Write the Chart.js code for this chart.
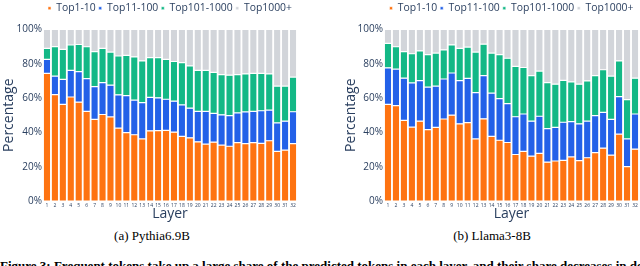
<!DOCTYPE html>
<html>
<head>
<meta charset="utf-8">
<script src="https://cdn.jsdelivr.net/npm/chart.js@4/dist/chart.umd.min.js"></script>
<style>
  body { margin: 0; width: 640px; height: 266px; overflow: hidden; background: #fff; position: relative; }
  .box { position: absolute; top: 0; width: 320px; height: 222px; }
  .cap { position: absolute; top: 228px; font: 13px "Liberation Serif", serif; color: #000; white-space: nowrap; transform: translateX(-50%); }
  .fig { position: absolute; left: 0; top: 258px; font: bold 13px "Liberation Serif", serif; color: #000; white-space: nowrap; }
</style>
</head>
<body>
<div class="box" style="left:0"><canvas id="pythia" width="320" height="222"></canvas></div>
<div class="box" style="left:320px"><canvas id="llama" width="320" height="222"></canvas></div>
<div class="cap" style="left:152px">(a) Pythia6.9B</div>
<div class="cap" style="left:492px">(b) Llama3-8B</div>
<div class="fig">Figure 3: Frequent tokens take up a large share of the predicted tokens in each layer, and their share decreases in deeper layers.</div>
<script>
const layers = [];
for (let i = 1; i <= 32; i++) layers.push(String(i));

const seriesNames = ['Top1-10', 'Top11-100', 'Top101-1000', 'Top1000+'];
const colors = ['#fe7311', '#2361e8', '#13b886', '#d2d5da'];

// Pythia6.9B, percent per layer
const pythiaTop10 = [74.4, 62, 56.3, 60.6, 57.6, 52.2, 47.6, 50.4, 49, 42.5, 39.9, 38.6, 36.2, 40.9, 41, 41.2,
    40.1, 37.7, 36.8, 34.5, 33.2, 34.3, 32.6, 31.9, 34, 33.4, 34, 33.6, 35.1, 28.9, 29.7, 33.4];
const pythiaTop100 = [8.1, 10.8, 14.6, 15.5, 17.8, 19.1, 19, 18.6, 18.5, 19.4, 21.5, 20.2, 21.1, 19.5, 19.1, 18.1,
    18.1, 18.3, 17.3, 17.7, 19, 16.8, 17.6, 17.9, 17.3, 18.5, 18.2, 19, 17.9, 16.6, 16.8, 18.6];
const pythiaTop1000 = [6.5, 17.2, 17.5, 14.8, 15.8, 18.6, 20.5, 20, 19.3, 22.6, 23.5, 25.2, 24.4, 23.2, 23.5, 23.2,
    23.1, 24.6, 24.6, 23.9, 23.9, 23.9, 23.5, 23.5, 22.4, 22.2, 22.2, 21.8, 21.1, 21.5, 20.5, 20.2];
const pythiaRest = [11, 10, 11.6, 9.1, 8.8, 10.1, 12.9, 11, 13.2, 15.5, 15.1, 16, 18.3, 16.4, 16.4, 17.5,
    18.7, 19.4, 21.3, 23.9, 23.9, 25, 26.3, 26.7, 26.3, 25.9, 25.6, 25.6, 25.9, 33, 33, 27.8];

// Llama3-8B, percent per layer
const llamaTop10 = [56.3, 55.6, 47, 43.1, 46.5, 41.6, 42.9, 47.8, 50, 45, 45.7, 36.2, 47.9, 37.7, 35.4, 34.1,
    27.1, 28.9, 26.1, 27.8, 22.6, 23.3, 23.7, 25.7, 23.5, 25.2, 28.2, 30.8, 26.7, 39, 20, 30.2];
const llamaTop100 = [21.3, 21.3, 24.6, 25.7, 23.6, 24.8, 24.1, 23.3, 24.6, 25.1, 25.8, 27, 25.2, 25.2, 24.3, 22.6,
    22, 21.8, 20.4, 21.6, 19.6, 19.6, 22.2, 20.6, 21.5, 21.4, 21.6, 20.9, 20.9, 21.8, 16.2, 20.5];
const llamaTop1000 = [14.2, 13, 15.5, 17, 17.4, 18.9, 19.2, 17, 16.4, 18.9, 18.2, 23.6, 18.3, 23.3, 25.6, 26.5,
    29.3, 27.1, 26.6, 26.3, 26.8, 25.2, 24.4, 23.1, 23.1, 23.4, 23.3, 24.8, 25.2, 20.9, 22.9, 20.9];
const llamaRest = [8.2, 10.1, 12.9, 14.2, 12.5, 14.7, 13.8, 11.9, 9, 11, 10.3, 13.2, 8.6, 13.8, 14.7, 16.8,
    21.6, 22.2, 26.9, 24.3, 31, 31.9, 29.7, 30.6, 31.9, 30, 26.9, 23.5, 27.2, 18.3, 40.9, 28.4];

const textColor = '#2a3f5f';
Chart.defaults.font.family = '"Open Sans", sans-serif';
Chart.defaults.color = textColor;

function makeChart(id, series, yWidth, titlePad, padRight) {
    const datasets = series.map((data, i) => ({
        label: seriesNames[i],
        data: data,
        backgroundColor: colors[i],
        borderColor: 'rgba(255,255,255,0.9)',
        borderWidth: 0.6,
        borderSkipped: false,
        categoryPercentage: 1,
        barPercentage: 0.92
    }));

    const legendGap = {
        id: 'legendGap',
        beforeInit(chart) {
            const fit = chart.legend.fit;
            chart.legend.fit = function () {
                fit.bind(chart.legend)();
                this.height += 6;
            };
        }
    };

    return new Chart(document.getElementById(id), {
        type: 'bar',
        data: { labels: layers, datasets: datasets },
        plugins: [legendGap],
        options: {
            responsive: false,
            animation: false,
            maintainAspectRatio: false,
            layout: { padding: { top: 0, right: padRight, bottom: 0, left: 0 } },
            plugins: {
                tooltip: { enabled: false },
                legend: {
                    position: 'top',
                    fullSize: false,
                    labels: {
                        boxWidth: 3,
                        boxHeight: 3,
                        padding: 3,
                        font: { size: 10.4 },
                        color: textColor
                    }
                }
            },
            scales: {
                x: {
                    stacked: true,
                    grid: { display: false, drawTicks: false, tickLength: 0 },
                    border: { display: false },
                    ticks: { font: { size: 5 }, maxRotation: 0, autoSkip: false, padding: 2 },
                    title: { display: true, text: 'Layer', font: { size: 14 }, padding: { top: 0, bottom: 0 } },
                    afterFit(scale) { scale.height = 21; }
                },
                y: {
                    stacked: true,
                    min: 0,
                    max: 100,
                    grid: { display: false, drawTicks: false, tickLength: 0 },
                    border: { display: false },
                    ticks: { stepSize: 20, font: { size: 10 }, padding: 1, callback: (v) => v + '%' },
                    title: { display: true, text: 'Percentage', font: { size: 14 }, padding: { top: titlePad, bottom: 0 } },
                    afterFit(scale) { scale.width = yWidth; }
                }
            }
        }
    });
}

makeChart('pythia', [pythiaTop10, pythiaTop100, pythiaTop1000, pythiaRest], 43, 1, 23);
makeChart('llama', [llamaTop10, llamaTop100, llamaTop1000, llamaRest], 64, 23, 1);
</script>
</body>
</html>
